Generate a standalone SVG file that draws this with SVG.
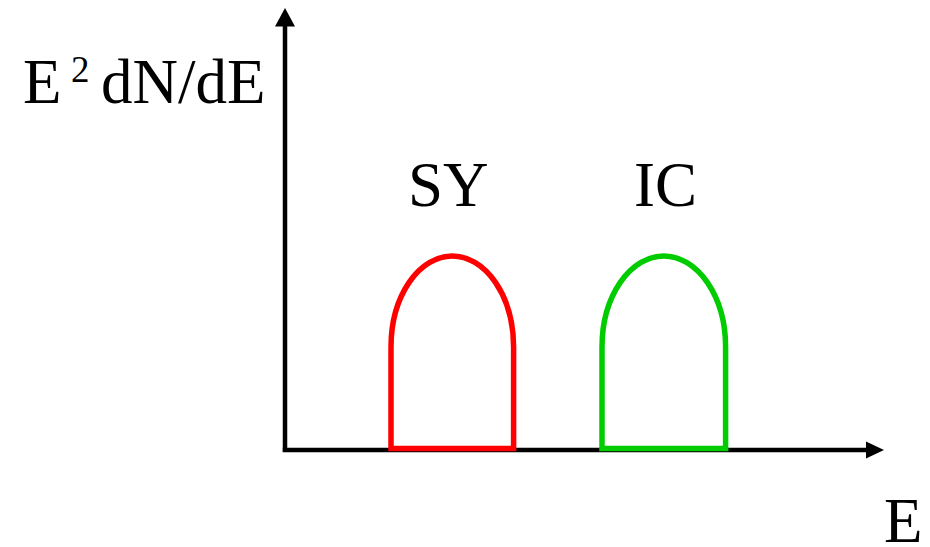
<svg xmlns="http://www.w3.org/2000/svg" width="930" height="547" viewBox="0 0 930 547">
<style>
.t{font-family:"Liberation Serif","Times New Roman",serif;fill:#000}
.axis{stroke:#000;stroke-width:4.5;fill:none}
.peak{fill:none;stroke-width:5.5;stroke-linejoin:miter}
</style>
<rect width="930" height="547" fill="#fff"/>
<g id="connectors">
<line class="axis" x1="285" y1="452" x2="285" y2="24"/>
<polygon points="275,26.5 285,8 295,26.5" fill="#000"/>
<line class="axis" x1="282.8" y1="450" x2="868" y2="450"/>
<polygon points="866,441.5 884,450 866,458.5" fill="#000"/>
</g>
<g id="sy">
<path class="peak" stroke="#ff0000" d="M391,448.5 V347 A61.3,91 0 0 1 513.6,347 V448.5 Z"/>
<text class="t" x="408" y="206" font-size="63">SY</text>
</g>
<g id="ic">
<path class="peak" stroke="#00cc00" d="M602,448.5 V347 A61.8,91 0 0 1 725.6,347 V448.5 Z"/>
<text class="t" x="634" y="206" font-size="63">IC</text>
</g>
<g id="ylabel">
<text class="t" x="23" y="103" font-size="63">E</text>
<text class="t" x="71" y="81.5" font-size="37">2</text>
<text class="t" x="101" y="103" font-size="63">dN/dE</text>
</g>
<g id="xlabel">
<text class="t" x="884" y="541.5" font-size="63">E</text>
</g>
</svg>
